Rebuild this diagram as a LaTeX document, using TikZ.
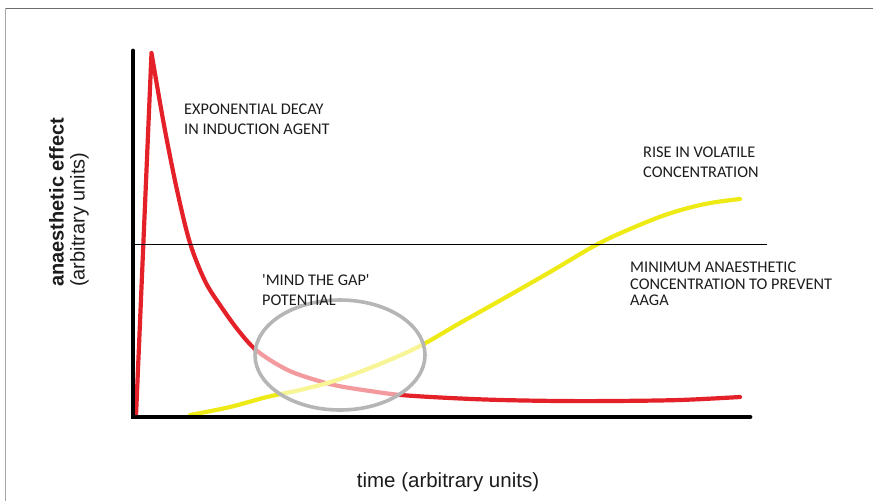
\documentclass[tikz,border=0pt]{standalone}
\usepackage{fontspec}
\setmainfont{Carlito}[Ligatures=TeXOff]
\newfontfamily\arialf{Liberation Sans}
\definecolor{curvered}{RGB}{228,32,40}
\definecolor{curveyellow}{RGB}{238,234,22}
\definecolor{ringgray}{RGB}{182,182,182}
\definecolor{txtgray}{RGB}{28,28,28}
\begin{document}
\begin{tikzpicture}[x=1pt,y=-1pt,
  axisline/.style={black,line width=4.8pt,line cap=round},
  levelline/.style={black,line width=0.9pt},
  redcurve/.style={curvered,line width=4.2pt,line join=round,line cap=round},
  yellowcurve/.style={curveyellow,line width=4.2pt,line cap=round},
  gapring/.style={ringgray,line width=3.6pt},
  capslabel/.style={font=\fontsize{16.3}{20}\selectfont,text=txtgray,inner sep=0pt,anchor=north west,align=left},
  axislabel/.style={font=\arialf\fontsize{20}{21}\selectfont,text=txtgray,inner sep=0pt},
  framepen/.style={line width=1.6pt}
]
\useasboundingbox (0,0) rectangle (873,501);
% frame
\draw[framepen,gray!85!black] (5,8.5) -- (873,8.5);
\draw[framepen,gray!70] (5.5,8) -- (5.5,501);
% curves
\draw[redcurve] (136,416) -- (151.5,53)
  plot[smooth,tension=0.55] coordinates {(151.5,53) (164,125) (177,190) (190,243) (205,281) (220,305) (238,330) (256,350) (280,366) (300,375) (334,385) (370,391) (401,395) (450,398) (501,400) (560,401) (612,401) (680,400) (740,397)};
\draw[yellowcurve] plot[smooth,tension=0.6] coordinates {(190,415) (230,407) (267,397) (300,390) (334,381) (375,366) (418,347) (460,323) (501,300) (550,272) (596,245) (630,229) (668,214) (705,204) (740,199)};
% fade inside ring
\fill[white,fill opacity=0.55] (340,355) ellipse [x radius=85pt,y radius=55pt];
\draw[gapring] (340,355) ellipse [x radius=85pt,y radius=55pt];
% axes
\coordinate (origin) at (133,417);
\coordinate (ytop) at (133,51);
\coordinate (xend) at (750,417);
\draw[axisline] (ytop) -- (origin) -- (xend);
\coordinate (macL) at (133,244);
\coordinate (macR) at (767,244);
\draw[levelline] (macL) -- (macR);
% labels
\node[capslabel] (decay) at (184,103.5) {EXPONENTIAL DECAY\\IN INDUCTION AGENT};
\node[capslabel] (rise) at (643,147) {RISE IN VOLATILE\\CONCENTRATION};
\node[capslabel,font=\fontsize{16.3}{16.5}\selectfont] (mac) at (630,262) {MINIMUM ANAESTHETIC\\CONCENTRATION TO PREVENT\\AAGA};
\node[capslabel] (gap) at (262,274) {'MIND THE GAP'\\POTENTIAL};
\node[axislabel,rotate=90,anchor=south west,align=left] (ylab) at (89,287) {{\bfseries anaesthetic effect}\\(arbitrary units)};
\node[axislabel,font=\arialf\fontsize{20.5}{21}\selectfont] (xlab) at (448,482) {time (arbitrary units)};
\end{tikzpicture}
\end{document}
